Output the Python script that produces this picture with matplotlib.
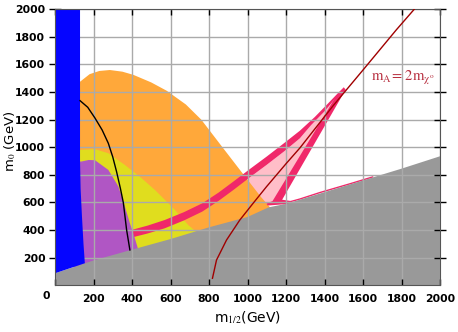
"""
m0 vs m1/2 parameter plane with the excluded and favoured regions.
"""

import matplotlib
matplotlib.use("Agg")
import matplotlib.pyplot as plt

plt.rcParams["mathtext.fontset"] = "stix"

# region boundaries (m1/2, m0) in GeV
gray_x = [0, 200, 400, 600, 800, 1000, 1110, 1200, 1400, 1600, 1800, 2000]
gray_y = [87, 180, 258, 335, 420, 495, 565, 590, 675, 760, 845, 935]

blue_x = [0, 0, 130, 130, 133, 140, 148, 155]
blue_y = [87, 2000, 2000, 900, 700, 500, 300, 160]

orange_x = [100, 130, 180, 230, 285, 350, 407, 500, 580, 680, 760, 870, 975, 1070, 1120, 1120, 100]
orange_y = [1460, 1475, 1530, 1553, 1560, 1548, 1525, 1470, 1410, 1310, 1200, 1000, 810, 640, 560, 0, 0]

yellow_x = [100, 138, 208, 277, 363, 450, 519, 571, 623, 692, 740, 740, 100]
yellow_y = [975, 981, 986, 957, 872, 776, 691, 619, 546, 437, 380, 0, 0]

purple_x = [100, 138, 175, 208, 277, 329, 363, 389, 412, 430, 440, 100]
purple_y = [895, 897, 908, 906, 836, 717, 571, 450, 353, 270, 0, 0]

black_x = [130, 170, 208, 245, 277, 300, 320, 340, 355, 372, 389]
black_y = [1338, 1290, 1211, 1125, 1029, 930, 822, 700, 598, 401, 256]

band_x = [395, 480, 570, 670, 765, 850, 926, 1010, 1099, 1190, 1272, 1350, 1420, 1475, 1500,
          1460, 1400, 1330, 1272, 1190, 1099, 1010, 926, 850, 765, 670, 570, 480, 395]
band_y = [400, 432, 473, 530, 594, 672, 751, 840, 932, 1030, 1120, 1220, 1320, 1400, 1432,
          1360, 1260, 1160, 1065, 970, 872, 780, 690, 612, 534, 470, 413, 375, 345]

strip_x = [1500, 1510, 1180, 1230, 1220, 1105, 1098, 1130, 1460]
strip_y = [1435, 1418, 620, 610, 590, 578, 592, 610, 1370]

wedge_x = [880, 1010, 1099, 1190, 1272, 1330, 1400, 1460, 1470, 1140, 1100, 1000]
wedge_y = [640, 780, 872, 970, 1065, 1160, 1260, 1360, 1375, 605, 585, 560]

edge_x = [1186, 1272, 1376, 1531, 1650]
edge_y = [592, 625, 672, 735, 785]

ma_x = [818, 839, 891, 960, 1029, 1099, 1202, 1272, 1444, 1600, 1773, 1866]
ma_y = [51, 183, 328, 473, 594, 715, 884, 995, 1300, 1560, 1851, 2000]

fig = plt.figure(figsize=(4.58, 3.32), dpi=100)
ax = fig.add_axes([0.1201, 0.1407, 0.8406, 0.8313])

ax.fill(wedge_x, wedge_y, color="#ffbec8", lw=0, zorder=0.1)
ax.fill(orange_x, orange_y, color="#ffa83a", lw=0, zorder=0.15)
ax.fill(yellow_x, yellow_y, color="#e0dd1e", lw=0, zorder=0.2)
ax.fill(band_x, band_y, color="#f0286a", lw=0, zorder=0.25)
ax.fill(strip_x, strip_y, color="#f0286a", lw=0, zorder=0.25)
ax.plot(edge_x, edge_y, color="#f0286a", lw=1, zorder=0.25)
ax.fill(purple_x, purple_y, color="#b056c4", lw=0, zorder=0.3)
ax.fill(gray_x + [2000, 0], gray_y + [0, 0], color="#999999", lw=0, zorder=0.4)
ax.fill(blue_x, blue_y, color="#0505ff", lw=0, zorder=0.6)

ax.plot(black_x, black_y, color="black", lw=1, zorder=3)
ax.plot(ma_x, ma_y, color="#a00000", lw=1, zorder=3)
ax.text(1640, 1505, r"$\mathrm{m_{A}\!=\,2m_{\chi^{o}}}$", color="#b83040",
        fontsize=10.5, va="center", zorder=3)

ax.set_xlim(0, 2000)
ax.set_ylim(0, 2000)
ax.set_xticks(range(0, 2001, 200))
ax.set_yticks(range(200, 2001, 200))
ax.set_xticklabels([""] + [str(v) for v in range(200, 2001, 200)])
ax.set_axisbelow(True)
ax.grid(color="#aaaaaa", lw=1)
ax.tick_params(axis="both", direction="in", length=4.5, width=1, color="black",
               top=True, right=True, labelsize=7.8, pad=3)
ax.tick_params(axis="x", pad=6)
ax.tick_params(axis="y", direction="inout", length=8)
for lab in ax.get_xticklabels() + ax.get_yticklabels():
    lab.set_fontweight("bold")
ax.text(-0.0216, -0.0225, "0", transform=ax.transAxes, ha="center", va="top",
        fontsize=7.8, fontweight="bold")
for sp in ax.spines.values():
    sp.set_color("#555555")

ax.set_xlabel(r"m$_{1/2}$(GeV)", fontsize=10, labelpad=4)
ax.set_ylabel(r"m$_0$ (GeV)", fontsize=9.5)
ax.yaxis.set_label_coords(-0.096, 0.52)

fig.savefig("out.png", dpi=100)
